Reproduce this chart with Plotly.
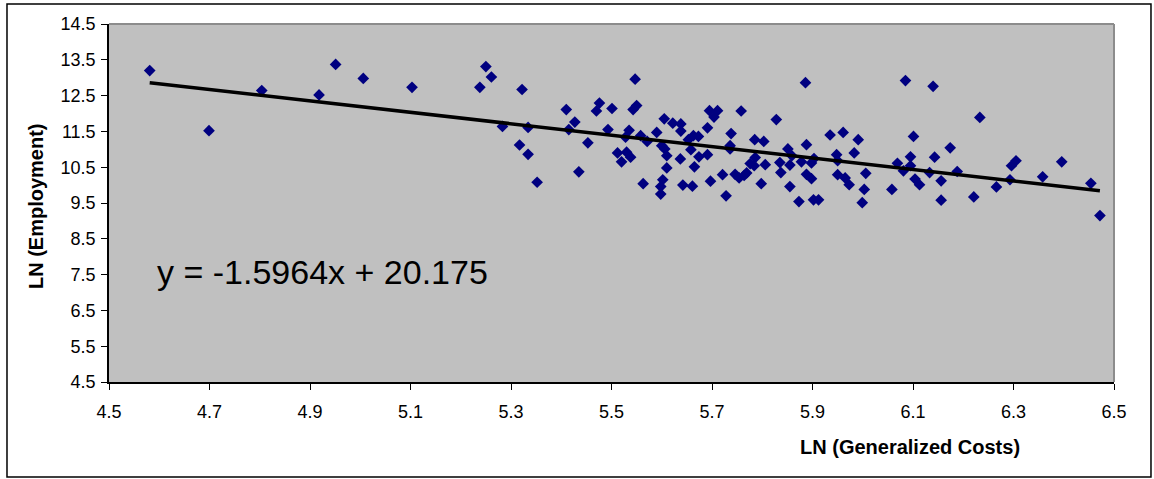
import plotly.graph_objects as go

# LN of generalized costs (x) and LN of employment (y) per zone
ln_costs = [
    4.581, 4.699, 4.804, 4.918, 4.951, 5.006, 5.103, 5.238, 5.250, 5.261,
    5.283, 5.322, 5.334, 5.317, 5.334, 5.352, 5.410, 5.427, 5.415, 5.453,
    5.435, 5.476, 5.470, 5.501, 5.493, 5.547, 5.550, 5.543, 5.535, 5.528,
    5.512, 5.530, 5.538, 5.520, 5.558, 5.571, 5.563, 5.605, 5.590, 5.600,
    5.606, 5.610, 5.610, 5.602, 5.598, 5.598, 5.622, 5.638, 5.638, 5.637,
    5.642, 5.661, 5.653, 5.663, 5.673, 5.658, 5.665, 5.674, 5.691, 5.691,
    5.695, 5.704, 5.711, 5.697, 5.721, 5.728, 5.738, 5.736, 5.736, 5.758,
    5.746, 5.754, 5.764, 5.769, 5.776, 5.786, 5.785, 5.803, 5.784, 5.806,
    5.798, 5.828, 5.835, 5.837, 5.851, 5.859, 5.855, 5.855, 5.873, 5.878,
    5.888, 5.888, 5.886, 5.898, 5.903, 5.898, 5.902, 5.912, 5.935, 5.961,
    5.948, 5.950, 5.950, 5.965, 5.973, 5.983, 5.991, 6.006, 6.003, 5.999,
    6.085, 6.140, 6.058, 6.069, 6.081, 6.095, 6.101, 6.095, 6.104, 6.113,
    6.133, 6.143, 6.156, 6.156, 6.174, 6.188, 6.233, 6.221, 6.266, 6.293,
    6.296, 6.305, 6.358, 6.396, 6.454, 6.472,
]
ln_employment = [
    13.20, 11.52, 12.64, 12.52, 13.37, 12.98, 12.73, 12.73, 13.31, 13.02,
    11.64, 12.67, 11.61, 11.12, 10.86, 10.08, 12.11, 11.76, 11.55, 11.18,
    10.37, 12.29, 12.07, 12.14, 11.55, 12.96, 12.22, 12.11, 11.53, 11.34,
    10.90, 10.92, 10.78, 10.65, 11.38, 11.22, 10.04, 11.85, 11.47, 11.10,
    11.01, 10.82, 10.48, 10.15, 9.96, 9.75, 11.73, 11.71, 11.51, 10.73,
    10.00, 9.97, 11.27, 11.38, 11.36, 10.99, 10.51, 10.79, 11.60, 10.85,
    12.08, 11.90, 12.08, 10.11, 10.29, 9.70, 11.44, 11.10, 11.01, 12.07,
    10.30, 10.20, 10.27, 10.34, 10.60, 10.77, 11.27, 11.22, 10.54, 10.57,
    10.04, 11.83, 10.63, 10.35, 11.01, 10.82, 10.56, 9.96, 9.54, 10.65,
    11.13, 10.30, 12.86, 10.62, 10.74, 10.18, 9.59, 9.59, 11.40, 11.47,
    10.85, 10.68, 10.29, 10.20, 10.01, 10.90, 11.27, 10.33, 9.88, 9.51,
    12.92, 12.76, 9.88, 10.61, 10.40, 10.79, 11.36, 10.54, 10.17, 10.01,
    10.35, 10.78, 10.12, 9.58, 11.04, 10.38, 11.89, 9.67, 9.95, 10.15,
    10.54, 10.68, 10.23, 10.65, 10.05, 9.15,
]

# Linear trend reported on the chart
slope = -1.5964
intercept = 20.175
x_tick_labels = ["4.5", "4.7", "4.9", "5.1", "5.3", "5.5", "5.7", "5.9", "6.1", "6.3", "6.5"]
y_tick_labels = ["4.5", "5.5", "6.5", "7.5", "8.5", "9.5", "10.5", "11.5", "12.5", "13.5", "14.5"]

trend_x = [min(ln_costs), max(ln_costs)]
trend_y = [slope * v + intercept for v in trend_x]

font_family = "Liberation Sans, Arial, sans-serif"

fig = go.Figure()
fig.add_trace(go.Scatter(
    x=ln_costs, y=ln_employment, mode="markers",
    marker=dict(symbol="diamond", size=9, color="#000080", line=dict(width=0)),
    showlegend=False, hoverinfo="x+y",
))
fig.add_trace(go.Scatter(
    x=trend_x, y=trend_y, mode="lines",
    line=dict(color="#000000", width=3.5),
    showlegend=False, hoverinfo="skip",
))

fig.update_layout(
    width=1154, height=479,
    margin=dict(l=109, r=40, t=24, b=97),
    paper_bgcolor="#FFFFFF",
    plot_bgcolor="#C0C0C0",
    font=dict(family=font_family, size=18, color="#000000"),
    xaxis=dict(
        range=[4.5, 6.5], tickmode="array",
        tickvals=[float(t) for t in x_tick_labels], ticktext=x_tick_labels,
        showgrid=False, zeroline=False,
        showline=True, linecolor="#000000", linewidth=1.5,
        ticks="outside", ticklen=6, tickcolor="#000000",
        ticklabelstandoff=7,
    ),
    yaxis=dict(
        range=[4.5, 14.5], tickmode="array",
        tickvals=[float(t) for t in y_tick_labels], ticktext=y_tick_labels,
        showgrid=False, zeroline=False,
        showline=True, linecolor="#000000", linewidth=1.5,
        ticks="outside", ticklen=6, tickcolor="#000000",
        ticklabelstandoff=2,
    ),
    shapes=[
        # grey frame on the top and right of the plot area
        dict(type="line", xref="paper", yref="paper", x0=0, x1=1, y0=1, y1=1,
             line=dict(color="#8C8C8C", width=2)),
        dict(type="line", xref="paper", yref="paper", x0=1, x1=1, y0=0, y1=1,
             line=dict(color="#8C8C8C", width=2)),
        # outer chart border
        dict(type="rect", xref="paper", yref="paper",
             x0=-0.1015, x1=1.0368, y0=-0.2654, y1=1.0559,
             line=dict(color="#000000", width=1.5)),
    ],
    annotations=[
        dict(text="y = -1.5964x + 20.175", x=4.592, y=7.58, xref="x", yref="y",
             xanchor="left", yanchor="middle", showarrow=False,
             font=dict(size=34, family=font_family)),
        dict(text="<b>LN (Generalized Costs)</b>", x=0.797, y=-0.1816,
             xref="paper", yref="paper", xanchor="center", yanchor="middle",
             showarrow=False, font=dict(size=20, family=font_family)),
        dict(text="<b>LN (Employment)</b>", x=-0.0726, y=0.4916,
             xref="paper", yref="paper", xanchor="center", yanchor="middle",
             textangle=-90, showarrow=False, font=dict(size=20, family=font_family)),
    ],
)

fig.write_html("out.html")
